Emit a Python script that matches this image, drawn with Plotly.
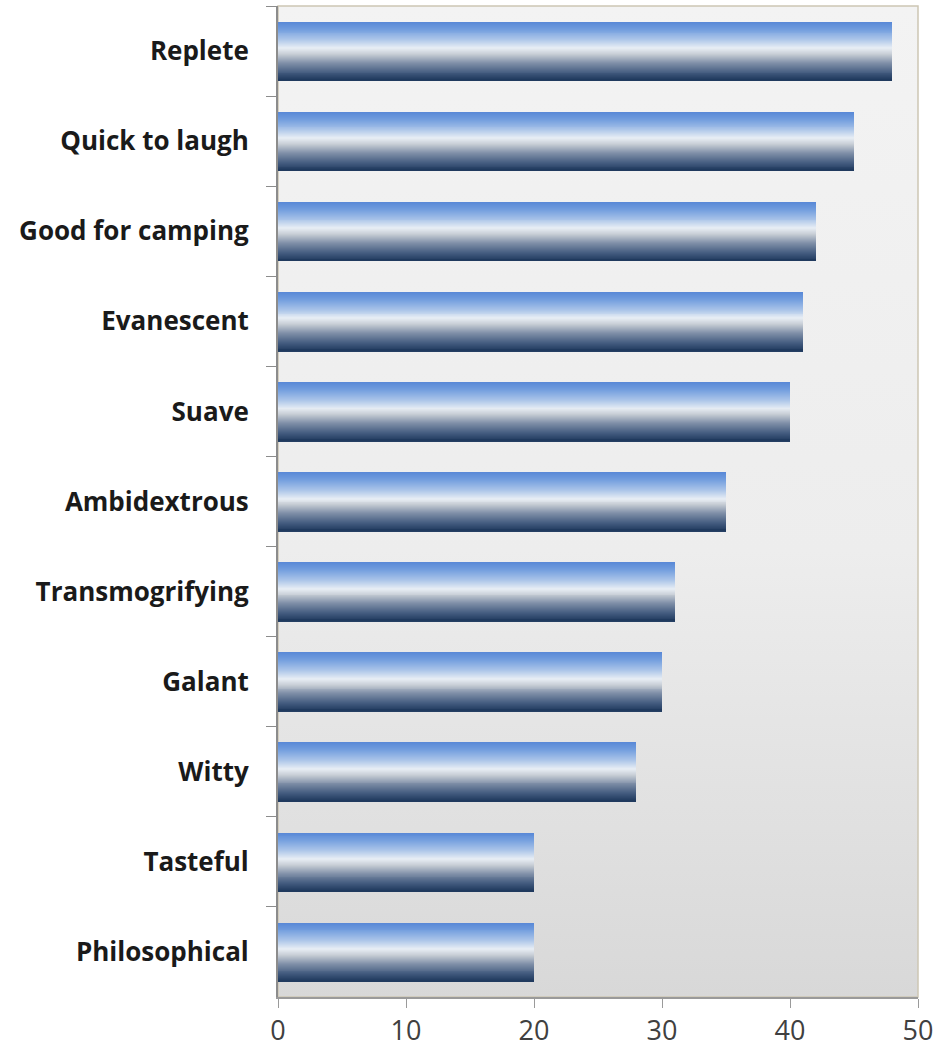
import base64
import plotly.graph_objects as go

# Survey attributes, listed top to bottom, with their scores
attributes = [
    "Replete", "Quick to laugh", "Good for camping", "Evanescent", "Suave",
    "Ambidextrous", "Transmogrifying", "Galant", "Witty", "Tasteful",
    "Philosophical",
]
scores = [48, 45, 42, 41, 40, 35, 31, 30, 28, 20, 20]
x_ticks = [0, 10, 20, 30, 40, 50]

# Vertical shading of each bar: (fraction from top edge, rgb)
BAR_STOPS = [
    (0.00, (88, 136, 214)),
    (0.12, (112, 156, 222)),
    (0.30, (170, 196, 232)),
    (0.45, (232, 238, 245)),
    (0.55, (200, 206, 214)),
    (0.70, (128, 144, 168)),
    (0.86, (70, 94, 130)),
    (1.00, (30, 56, 92)),
]
BAR_WIDTH = 0.65
N_STRIPES = 60


def shade(t):
    for (t0, c0), (t1, c1) in zip(BAR_STOPS, BAR_STOPS[1:]):
        if t0 <= t <= t1:
            f = (t - t0) / (t1 - t0) if t1 > t0 else 0
            r, g, b = (round(a + (b_ - a) * f) for a, b_ in zip(c0, c1))
            return f"rgb({r},{g},{b})"
    r, g, b = BAR_STOPS[-1][1]
    return f"rgb({r},{g},{b})"


fig = go.Figure()

# Each bar is built from thin horizontal slices laid over one another;
# every slice reaches into the next one, which then covers the overlap
step = BAR_WIDTH / N_STRIPES
for i in range(N_STRIPES):
    t = (i + 0.5) / N_STRIPES
    last = i == N_STRIPES - 1
    fig.add_trace(go.Bar(
        x=scores,
        y=attributes,
        orientation="h",
        offset=-BAR_WIDTH / 2 + i * step,
        width=step if last else step * 3,
        marker=dict(color=shade(t), line=dict(width=0)),
        showlegend=False,
        hoverinfo="x+y",
    ))

# Soft grey gradient behind the plotting area
svg = (
    '<svg xmlns="http://www.w3.org/2000/svg" width="10" height="100" '
    'preserveAspectRatio="none">'
    '<defs><linearGradient id="g" x1="0" y1="0" x2="0" y2="1">'
    '<stop offset="0" stop-color="#f3f3f3"/>'
    '<stop offset="0.55" stop-color="#ededed"/>'
    '<stop offset="1" stop-color="#d8d8d8"/>'
    '</linearGradient></defs>'
    '<rect width="10" height="100" fill="url(#g)"/></svg>'
)
bg_src = "data:image/svg+xml;base64," + base64.b64encode(svg.encode()).decode()

fig.update_layout(
    width=942,
    height=1054,
    margin=dict(l=278, r=24, t=6, b=45),
    paper_bgcolor="white",
    plot_bgcolor="rgba(0,0,0,0)",
    barmode="overlay",
    bargap=0,
    images=[dict(
        source=bg_src, xref="paper", yref="paper", x=0, y=1,
        sizex=1, sizey=1, xanchor="left", yanchor="top",
        sizing="stretch", layer="below",
    )],
    shapes=[dict(
        type="rect", xref="paper", yref="paper", x0=0, y0=0, x1=1, y1=1,
        line=dict(color="#cdc6b4", width=1.5), fillcolor="rgba(0,0,0,0)",
        layer="below",
    )],
    xaxis=dict(
        range=[0, 50],
        tickvals=x_ticks,
        ticktext=[str(v) for v in x_ticks],
        showgrid=False,
        zeroline=False,
        showline=True,
        linecolor="#9a9a9a",
        linewidth=1.5,
        ticks="outside",
        ticklen=9,
        tickcolor="#9a9a9a",
        tickfont=dict(family="Open Sans", size=27, color="#404040"),
    ),
    yaxis=dict(
        categoryorder="array",
        categoryarray=attributes,
        autorange="reversed",
        showgrid=False,
        zeroline=False,
        showline=True,
        linecolor="#8c8c8c",
        linewidth=2,
        ticks="outside",
        tickson="boundaries",
        ticklen=10,
        tickcolor="#8c8c8c",
        ticklabelstandoff=22,
        tickfont=dict(family="Open Sans", size=26, color="#1a1a1a", weight="bold"),
    ),
)

fig.write_html("out.html")
